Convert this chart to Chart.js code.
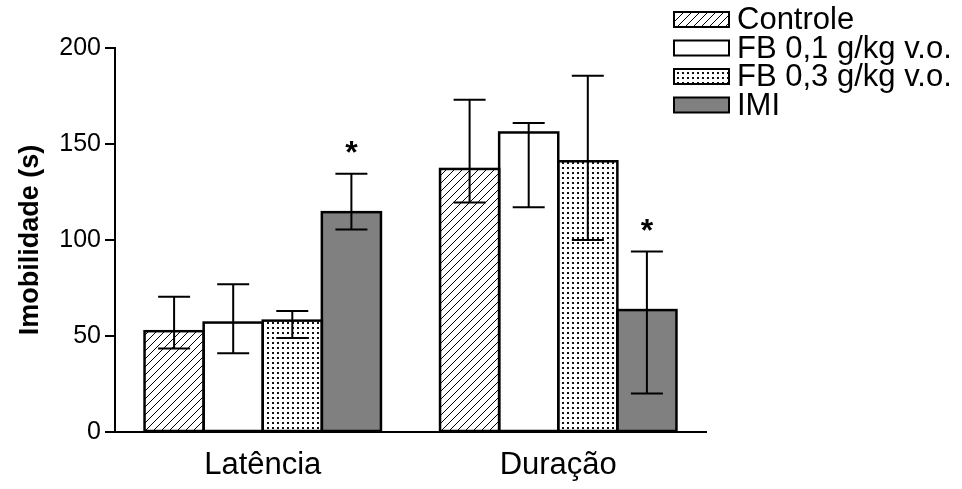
<!DOCTYPE html>
<html>
<head>
<meta charset="utf-8">
<script src="https://cdn.jsdelivr.net/npm/chart.js@4.4.1/dist/chart.umd.min.js"></script>
<style>
  html, body { margin: 0; padding: 0; background: #fff; }
</style>
</head>
<body>
<canvas id="chart" width="962" height="489"></canvas>
<script>
// categorias e valores
const categories = ['Latência', 'Duração'];
const seriesNames = ['Controle', 'FB 0,1 g/kg v.o.', 'FB 0,3 g/kg v.o.', 'IMI'];

const controle = [52.5, 137];
const controleHi = [70.5, 173];
const controleLo = [43.5, 119.5];

const fb01 = [57, 156];
const fb01Hi = [77, 161];
const fb01Lo = [41, 117];

const fb03 = [58, 141];
const fb03Hi = [63, 185.5];
const fb03Lo = [49, 100];

const imi = [114.5, 63.5];
const imiHi = [134.5, 94];
const imiLo = [105.5, 20];

// posição (valor) dos asteriscos sobre IMI
const imiStars = [149.5, 109];

const yTicks = [0, 50, 100, 150, 200];

function hatchPattern() {
  const c = document.createElement('canvas');
  c.width = 8; c.height = 8;
  const g = c.getContext('2d');
  g.fillStyle = '#fff';
  g.fillRect(0, 0, 8, 8);
  g.strokeStyle = '#000';
  g.lineWidth = 1;
  g.beginPath();
  g.moveTo(0, 8); g.lineTo(8, 0);
  g.moveTo(-1, 1); g.lineTo(1, -1);
  g.moveTo(7, 9); g.lineTo(9, 7);
  g.stroke();
  return g.createPattern(c, 'repeat');
}

function dotPattern() {
  const c = document.createElement('canvas');
  c.width = 5; c.height = 5;
  const g = c.getContext('2d');
  g.fillStyle = '#fff';
  g.fillRect(0, 0, 5, 5);
  g.fillStyle = '#111';
  g.fillRect(2, 2, 2, 2);
  return g.createPattern(c, 'repeat');
}

// contorno das barras (bordas compartilhadas) + barras de erro + asteriscos
const errorBars = {
  id: 'errorBars',
  afterDatasetsDraw(chart) {
    const ctx = chart.ctx;
    const y = chart.scales.y;
    ctx.save();
    ctx.strokeStyle = '#000';
    ctx.lineWidth = 2.5;
    chart.data.datasets.forEach((ds, i) => {
      chart.getDatasetMeta(i).data.forEach(bar => {
        ctx.strokeRect(bar.x - bar.width / 2, bar.y, bar.width, bar.base - bar.y);
      });
    });
    ctx.lineWidth = 2;
    chart.data.datasets.forEach((ds, i) => {
      const meta = chart.getDatasetMeta(i);
      meta.data.forEach((bar, j) => {
        const yh = y.getPixelForValue(ds.errHi[j]);
        const yl = y.getPixelForValue(ds.errLo[j]);
        ctx.beginPath();
        ctx.moveTo(bar.x, yh); ctx.lineTo(bar.x, yl);
        ctx.moveTo(bar.x - 16, yh); ctx.lineTo(bar.x + 16, yh);
        ctx.moveTo(bar.x - 16, yl); ctx.lineTo(bar.x + 16, yl);
        ctx.stroke();
      });
      if (ds.stars) {
        ctx.fillStyle = '#000';
        ctx.font = 'bold 32px "Liberation Sans", Arial, sans-serif';
        ctx.textAlign = 'center';
        ctx.textBaseline = 'alphabetic';
        meta.data.forEach((bar, j) => {
          const ys = y.getPixelForValue(ds.stars[j]);
          ctx.fillText('*', bar.x, ys + 18);
        });
      }
    });
    ctx.restore();
  }
};

const sideLegend = {
  id: 'sideLegend',
  afterDraw(chart) {
    const ctx = chart.ctx;
    ctx.save();
    ctx.font = '31px "Liberation Sans", Arial, sans-serif';
    ctx.textAlign = 'left';
    ctx.textBaseline = 'alphabetic';
    chart.data.datasets.forEach((ds, i) => {
      const top = 12 + i * 28.5;
      ctx.fillStyle = ds.backgroundColor;
      ctx.fillRect(674, top, 55, 15);
      ctx.strokeStyle = '#000';
      ctx.lineWidth = 2;
      ctx.strokeRect(674, top, 55, 15);
      ctx.fillStyle = '#000';
      ctx.fillText(ds.label, 737, top + 17);
    });
    ctx.restore();
  }
};

const makeSet = (i, data, hi, lo, bg, stars) => ({
  label: seriesNames[i],
  data: data,
  errHi: hi,
  errLo: lo,
  stars: stars,
  backgroundColor: bg,
  borderWidth: 0,
  categoryPercentage: 0.8,
  barPercentage: 1.0
});

new Chart(document.getElementById('chart'), {
  type: 'bar',
  data: {
    labels: categories,
    datasets: [
      makeSet(0, controle, controleHi, controleLo, hatchPattern()),
      makeSet(1, fb01, fb01Hi, fb01Lo, '#ffffff'),
      makeSet(2, fb03, fb03Hi, fb03Lo, dotPattern()),
      makeSet(3, imi, imiHi, imiLo, '#808080', imiStars)
    ]
  },
  options: {
    responsive: false,
    animation: false,
    devicePixelRatio: 1,
    layout: { padding: { top: 48, right: 256, left: 0, bottom: 0 } },
    plugins: {
      legend: { display: false },
      tooltip: { enabled: false }
    },
    scales: {
      x: {
        afterFit(scale) { scale.height = 57; },
        grid: { display: false, drawTicks: false },
        border: { display: true, color: '#000', width: 2 },
        ticks: {
          color: '#000',
          padding: 15,
          font: { family: '"Liberation Sans", Arial, sans-serif', size: 31 }
        }
      },
      y: {
        min: 0,
        max: 200,
        afterFit(scale) { scale.width = 115; },
        afterBuildTicks(scale) { scale.ticks = yTicks.map(v => ({ value: v })); },
        grid: {
          display: true,
          drawOnChartArea: false,
          drawTicks: true,
          tickLength: 10,
          color: '#000',
          lineWidth: 2
        },
        border: { display: true, color: '#000', width: 2 },
        ticks: {
          color: '#000',
          padding: 4,
          font: { family: '"Liberation Sans", Arial, sans-serif', size: 25 }
        },
        title: {
          display: true,
          text: 'Imobilidade (s)',
          color: '#000',
          padding: { top: 14, bottom: 0 },
          font: { family: '"Liberation Sans", Arial, sans-serif', size: 27, weight: 'bold' }
        }
      }
    }
  },
  plugins: [errorBars, sideLegend]
});
</script>
</body>
</html>
